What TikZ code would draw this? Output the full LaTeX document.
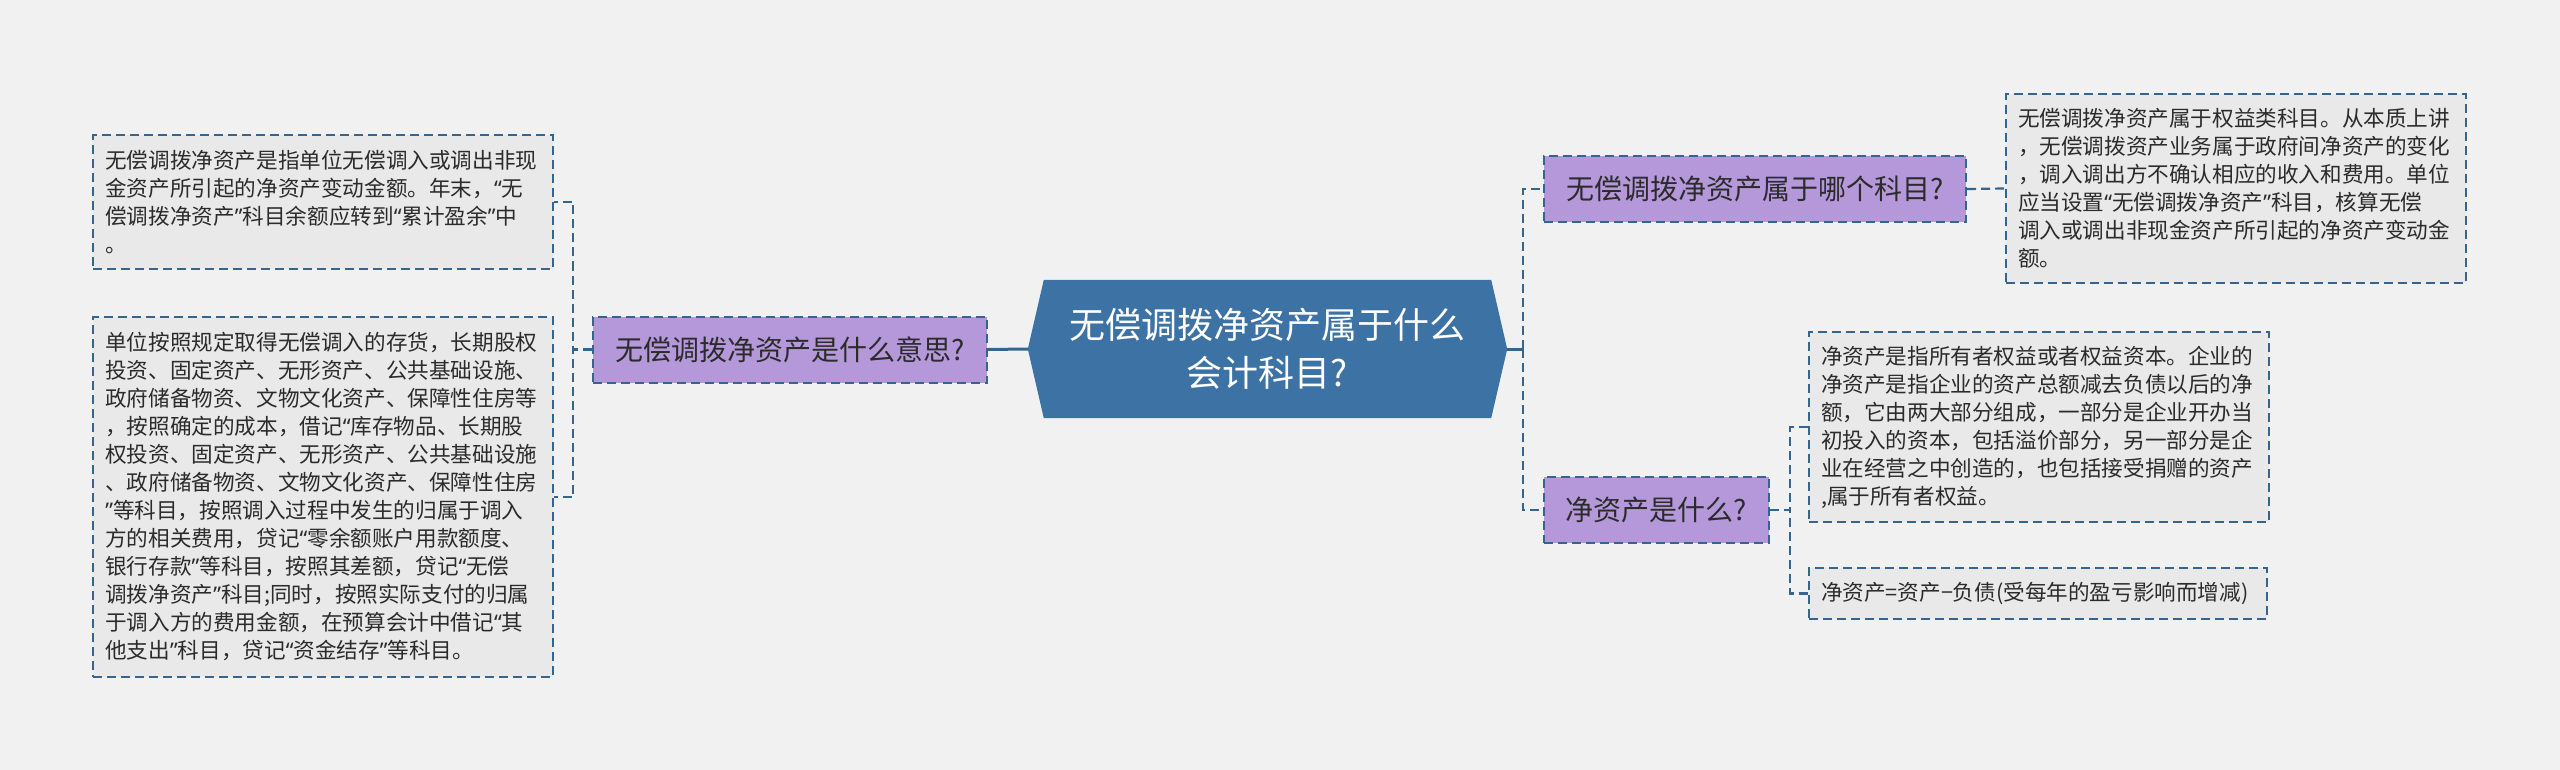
\documentclass[tikz,border=0pt]{standalone}
\usepackage{fontspec}
\setmainfont{Noto Sans CJK SC}
\newfontfamily\latf{Noto Sans}
\newcommand\oq{{\latf “}}
\newcommand\cq{{\latf ”}}
\usetikzlibrary{backgrounds}
\definecolor{bgc}{HTML}{F1F1F1}
\definecolor{linec}{HTML}{35648F}
\definecolor{rootc}{HTML}{3D72A4}
\definecolor{purp}{HTML}{B598DA}
\definecolor{leaffill}{HTML}{E9E9E9}
\definecolor{textc}{HTML}{2B2B2B}
\tikzset{
  leaf/.style={draw=linec, line width=2pt, dash pattern=on 9pt off 5pt, fill=leaffill,
    font=\fontsize{21.6}{28}\selectfont, text=textc, align=left,
    inner xsep=12pt, inner ysep=6pt, anchor=center},
  sub/.style={draw=linec, line width=2pt, dash pattern=on 9pt off 5pt, fill=purp,
    font=\fontsize{28}{34}\selectfont, text=textc, align=center,
    minimum height=66pt, inner sep=0pt, anchor=center},
  roottext/.style={font=\fontsize{36}{48}\selectfont, text=white, align=center,
    minimum width=479pt, minimum height=138pt, inner sep=0pt, anchor=center},
  conn/.style={draw=linec, line width=2.2pt, dash pattern=on 9pt off 5pt},
  rootconn/.style={draw=linec, line width=3pt},
}
\begin{document}
\begin{tikzpicture}[x=1pt,y=-1pt]
\useasboundingbox (0,0) rectangle (2560,770);

% root
\node[roottext] (root) at (1267.5,349) {无偿调拨净资产属于什么\\会计科目?};
\begin{pgfonlayer}{background}
\fill[bgc] (0,0) rectangle (2560,770);
\fill[rootc] (root.west) -- ([xshift=16pt]root.north west) -- ([xshift=-16pt]root.north east)
  -- (root.east) -- ([xshift=-16pt]root.south east) -- ([xshift=16pt]root.south west) -- cycle;
\end{pgfonlayer}

% left branch
\node[sub, minimum width=394pt] (pL) at (790,349.5) {无偿调拨净资产是什么意思?};
\node[leaf, text width=436pt, minimum height=134pt] (b1) at (323.25,202) {无偿调拨净资产是指单位无偿调入或调出非现\\金资产所引起的净资产变动金额。年末，\oq 无\\偿调拨净资产\cq 科目余额应转到\oq 累计盈余\cq 中\\。};
\node[leaf, text width=436pt, minimum height=360pt] (b2) at (323.25,497) {单位按照规定取得无偿调入的存货，长期股权\\投资、固定资产、无形资产、公共基础设施、\\政府储备物资、文物文化资产、保障性住房等\\，按照确定的成本，借记\oq 库存物品、长期股\\权投资、固定资产、无形资产、公共基础设施\\、政府储备物资、文物文化资产、保障性住房\\\cq 等科目，按照调入过程中发生的归属于调入\\方的相关费用，贷记\oq 零余额账户用款额度、\\银行存款\cq 等科目，按照其差额，贷记\oq 无偿\\调拨净资产\cq 科目;同时，按照实际支付的归属\\于调入方的费用金额，在预算会计中借记\oq 其\\他支出\cq 科目，贷记\oq 资金结存\cq 等科目。};

% right branch
\node[sub, minimum width=422pt] (pTR) at (1755,189) {无偿调拨净资产属于哪个科目?};
\node[sub, minimum width=225pt] (pR2) at (1656.5,510) {净资产是什么?};
\node[leaf, text width=436pt, minimum height=189pt] (tr) at (2236,188.5) {无偿调拨净资产属于权益类科目。从本质上讲\\，无偿调拨资产业务属于政府间净资产的变化\\，调入调出方不确认相应的收入和费用。单位\\应当设置\oq 无偿调拨净资产\cq 科目，核算无偿\\调入或调出非现金资产所引起的净资产变动金\\额。};
\node[leaf, text width=436pt, minimum height=190pt] (r1) at (2039,427) {净资产是指所有者权益或者权益资本。企业的\\净资产是指企业的资产总额减去负债以后的净\\额，它由两大部分组成，一部分是企业开办当\\初投入的资本，包括溢价部分，另一部分是企\\业在经营之中创造的，也包括接受捐赠的资产\\,属于所有者权益。};
\node[leaf, text width=434pt, minimum height=51pt] (r2) at (2038,593.5) {净资产=资产−负债(受每年的盈亏影响而增减)};

% connectors
\draw[rootconn] (root.west) -- (pL.east);
\draw[conn] (pL.west) -- ++(-19,0) |- (b1.east);
\draw[conn] (pL.west) -- ++(-19,0) |- (b2.east);

\draw[rootconn] (root.east) -- ++(16,0) coordinate (rj);
\draw[conn] (rj) |- (pTR.west);
\draw[conn] (rj) |- (pR2.west);
\draw[conn] (pTR.east) -- (tr.west);
\draw[conn] (pR2.east) -- ++(20,0) |- (r1.west);
\draw[conn] (pR2.east) -- ++(20,0) |- (r2.west);
\end{tikzpicture}
\end{document}
